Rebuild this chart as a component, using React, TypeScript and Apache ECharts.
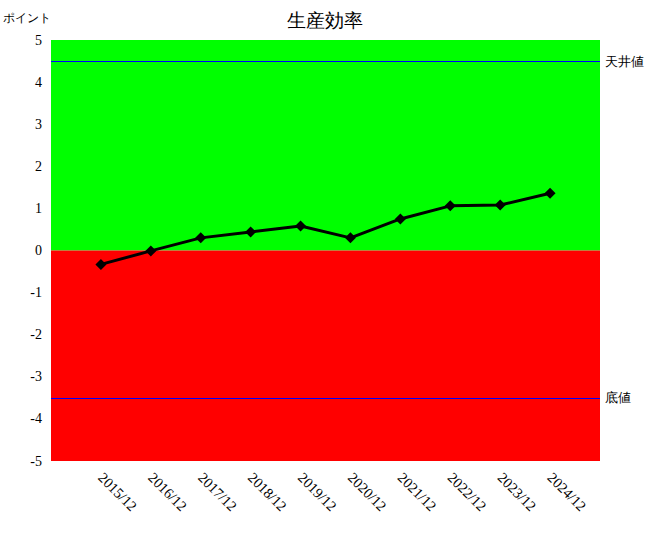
import React, { useEffect, useRef } from "react";
import * as echarts from "echarts";

const categories = ["", "2015/12", "2016/12", "2017/12", "2018/12", "2019/12", "2020/12", "2021/12", "2022/12", "2023/12", "2024/12", ""];
const values: (number | null)[] = [null, -0.33, -0.01, 0.3, 0.44, 0.58, 0.3, 0.75, 1.06, 1.08, 1.36, null];
const ceilingValue = 4.5;
const floorValue = -3.5;
const yMin = -5;
const yMax = 5;

const FONT = "Liberation Serif";

export default function App() {
  const ref = useRef<HTMLDivElement>(null);
  useEffect(() => {
    if (!ref.current) return;
    const chart = echarts.init(ref.current, undefined, { renderer: "svg" });
    chart.setOption({
      animation: false,
      title: {
        text: "生産効率",
        left: "center",
        top: 6,
        textStyle: { fontSize: 19, fontWeight: "normal", color: "#000", fontFamily: FONT },
      },
      grid: { left: 50, right: 50, top: 40, bottom: 79 },
      xAxis: {
        type: "category",
        data: categories,
        boundaryGap: false,
        axisLine: { show: false },
        axisTick: { show: false },
        splitLine: { show: false },
        axisLabel: {
          rotate: -45,
          interval: 0,
          margin: 14,
          color: "#000",
          fontSize: 14.5,
          fontFamily: FONT,
        },
      },
      yAxis: {
        type: "value",
        min: yMin,
        max: yMax,
        interval: 1,
        name: "ポイント",
        nameLocation: "end",
        nameGap: 16,
        nameTextStyle: { color: "#000", fontSize: 12, align: "right", fontFamily: FONT },
        axisLine: { show: false },
        axisTick: { show: false },
        splitLine: { show: false },
        axisLabel: {
          margin: 9,
          color: "#000",
          fontSize: 14,
          fontFamily: FONT,
        },
      },
      series: [
        {
          type: "line",
          data: values,
          symbol: "diamond",
          symbolSize: 11,
          lineStyle: { color: "#000", width: 3 },
          itemStyle: { color: "#000" },
          z: 5,
          markArea: {
            silent: true,
            data: [
              [{ yAxis: 0, itemStyle: { color: "#00ff00", opacity: 1 } }, { yAxis: yMax }],
              [{ yAxis: yMin, itemStyle: { color: "#ff0000", opacity: 1 } }, { yAxis: 0 }],
            ],
          },
          markLine: {
            silent: true,
            symbol: "none",
            lineStyle: { color: "#0000ff", width: 1, type: "solid" },
            label: { position: "end", color: "#000", fontSize: 13, distance: 5, fontFamily: FONT },
            data: [
              { yAxis: ceilingValue, label: { formatter: "天井値" } },
              { yAxis: floorValue, label: { formatter: "底値" } },
            ],
          },
        },
      ],
    });
    return () => chart.dispose();
  }, []);
  return <div ref={ref} style={{ width: 650, height: 540, position: "absolute", left: 0, top: 0, background: "#fff" }} />;
}
